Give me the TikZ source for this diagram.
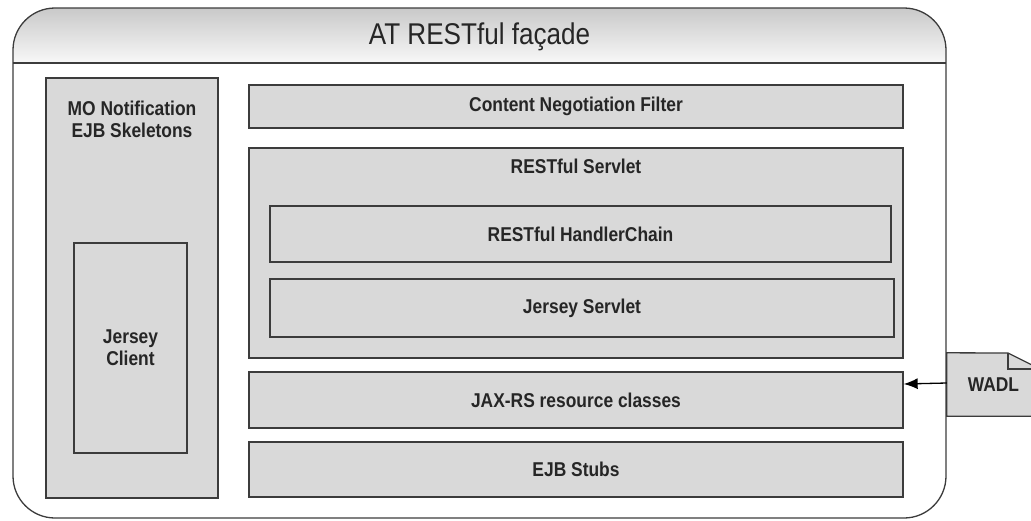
\documentclass[tikz,border=0pt]{standalone}
\usepackage{fontspec}
\setmainfont{Liberation Sans}[FakeStretch=0.87]
\usetikzlibrary{arrows.meta,backgrounds}
\definecolor{boxfill}{HTML}{D9D9D9}
\definecolor{edge}{HTML}{3C3C3C}
\definecolor{hdrtop}{HTML}{C9C9C9}
\definecolor{hdrbot}{HTML}{F8F8F8}
\tikzset{
  box/.style={draw=edge, fill=boxfill, line width=1.3pt, inner sep=0pt, rectangle},
  lbl/.style={font=\fontsize{20}{22}\selectfont\bfseries, text=black!85, align=center, inner sep=0pt},
  ttl/.style={font=\fontsize{30}{32}\selectfont, text=black!85, inner sep=0pt},
  frame/.style={edge, line width=1.3pt},
}
\begin{document}
\begin{tikzpicture}[x=1pt,y=-1pt]
\useasboundingbox (0,0) rectangle (1031,520);
\clip (0,0) rectangle (1031,520);
% outer frame
\fill[white, rounded corners=42] (13,8) rectangle (946,518);
\begin{scope}
  \clip[rounded corners=42] (13,8) rectangle (946,518);
  \fill[top color=hdrtop, bottom color=hdrbot] (13,8) rectangle (946,63);
\end{scope}
\draw[frame, rounded corners=42] (13,8) rectangle (946,518);
\draw[frame] (13,63) -- (946,63);
\node[ttl] (title) at (479.5,37) {AT RESTful façade};

% left column
\node[box, minimum width=172, minimum height=420] (left) at (132,288) {};
\node[lbl, anchor=base] (leftt) at (132,137) {MO Notification\\EJB Skeletons};
\node[box, minimum width=113, minimum height=210, lbl] (client) at (130.5,348) {Jersey\\Client};

% right column
\node[box, minimum width=654, minimum height=43, lbl] (cnf) at (576,106.5) {Content Negotiation Filter};
\node[box, minimum width=654, minimum height=210] (servlet) at (576,253) {};
\node[lbl, anchor=base] (servlett) at (576,173) {RESTful Servlet};
\node[box, minimum width=621, minimum height=56, lbl] (chain) at (580.5,234) {RESTful HandlerChain};
\node[box, minimum width=624, minimum height=58, lbl] (jersey) at (582,308) {Jersey Servlet};
\node[box, minimum width=654, minimum height=56, lbl] (jax) at (576,400) {JAX-RS resource classes};
\node[box, minimum width=654, minimum height=55, lbl] (ejb) at (576,469.5) {EJB Stubs};

% WADL document
\node[lbl, minimum width=93, minimum height=63] (wadl) at (993.5,384.5) {WADL};
\begin{scope}[on background layer]
\fill[boxfill] (wadl.north west) -- (1008,353) -- (1040,369) -- (wadl.south east) -- (wadl.south west) -- cycle;
\end{scope}
\draw[frame] (wadl.north west) -- (1008,353) -- (1040,369) -- (wadl.south east) -- (wadl.south west) -- cycle;
\draw[frame] (1008,353) -- (1008,369) -- (1040,369);
\draw[line width=1.3pt, -{Latex[length=14pt,width=11pt]}] (wadl.west |- 0,383) -- (jax.east |- 0,384);
\end{tikzpicture}
\end{document}
